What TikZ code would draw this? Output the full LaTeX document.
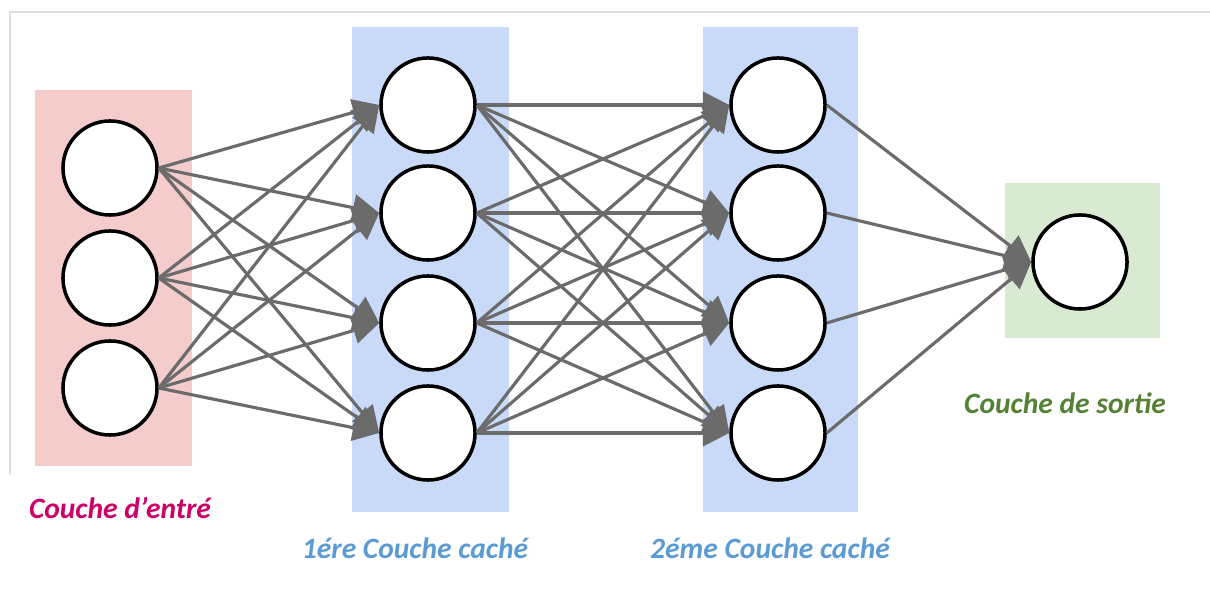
\documentclass[tikz,border=0pt]{standalone}
\usepackage{fontspec}
\setmainfont{Carlito}
\usetikzlibrary{arrows.meta}
\definecolor{inred}{HTML}{F4CCCC}
\definecolor{hidblue}{HTML}{C9DAF8}
\definecolor{outgreen}{HTML}{D9EAD3}
\definecolor{linkgray}{HTML}{6B6B6B}
\definecolor{labred}{HTML}{CC0066}
\definecolor{labblue}{HTML}{5B9BD5}
\definecolor{labgreen}{HTML}{548235}
\tikzset{
  neuron/.style={circle, draw=black, line width=1pt, fill=white, minimum size=0.94cm, inner sep=0pt},
  link/.style={draw=linkgray, line width=0.9pt, -{Triangle[length=7.5pt,width=7.5pt]}},
  layerlabel/.style={font=\fontsize{8.4}{10}\selectfont\bfseries\itshape, inner sep=0pt}
}
\begin{document}
\begin{tikzpicture}[x=0.01cm, y=-0.01cm]
  \useasboundingbox (0,0) rectangle (1210,601);
  % faint frame
  \draw[gray!25, line width=0.5pt] (10,475) -- (10,12) -- (1210,12);
  % layer boxes
  \fill[inred] (35,90) rectangle (192,466);
  \fill[hidblue] (352,27) rectangle (509,512);
  \fill[hidblue] (703,27) rectangle (858,512);
  \fill[outgreen] (1005,183) rectangle (1160,338);
  % neurons
  \foreach \i/\y in {1/168, 2/278, 3/388}
    \node[neuron] (in\i) at (110,\y) {};
  \foreach \i/\y in {1/105, 2/213, 3/323, 4/433} {
    \node[neuron] (ha\i) at (428,\y) {};
    \node[neuron] (hb\i) at (778,\y) {};
  }
  \node[neuron] (out) at (1080,262) {};
  % connections
  \foreach \i in {1,2,3}
    \foreach \j in {1,...,4}
      \draw[link] (in\i.east) -- (ha\j.west);
  \foreach \i in {1,...,4}
    \foreach \j in {1,...,4}
      \draw[link] (ha\i.east) -- (hb\j.west);
  \foreach \i in {1,...,4}
    \draw[link] (hb\i.east) -- (out.west);
  % labels
  \node[layerlabel, text=labred] (labin) at (120,508) {Couche d’entré};
  \node[layerlabel, text=labblue] (labha) at (415,548) {1ére Couche caché};
  \node[layerlabel, text=labblue] (labhb) at (770,548) {2éme Couche caché};
  \node[layerlabel, text=labgreen] (labout) at (1065,403) {Couche de sortie};
\end{tikzpicture}
\end{document}
